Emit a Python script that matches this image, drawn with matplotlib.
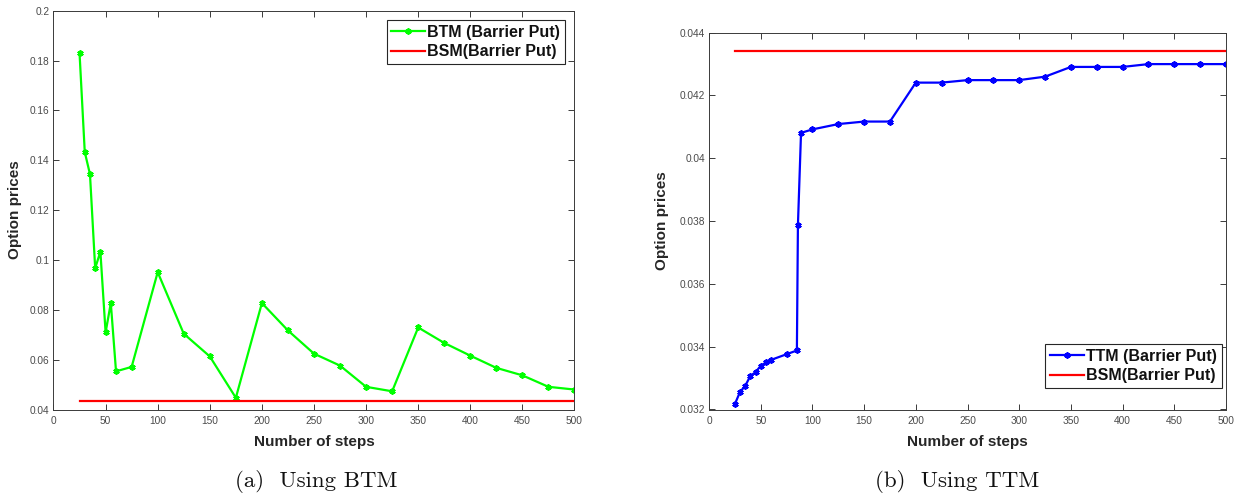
import matplotlib
matplotlib.use("Agg")
import matplotlib.pyplot as plt
from matplotlib.ticker import FormatStrFormatter, MultipleLocator

# Binomial tree model (BTM) prices for the barrier put
btm_steps = [25, 30, 35, 40, 45, 50, 55, 60, 75, 100, 125, 150, 175, 200, 225,
             250, 275, 300, 325, 350, 375, 400, 425, 450, 475, 500]
btm_prices = [0.1829, 0.1433, 0.1344, 0.0967, 0.1033, 0.0709, 0.0827, 0.0553,
              0.0571, 0.0951, 0.0704, 0.0613, 0.0447, 0.0827, 0.0717, 0.0624,
              0.0576, 0.0491, 0.0473, 0.0729, 0.0667, 0.0616, 0.0567, 0.0537,
              0.0491, 0.0480]

# Trinomial tree model (TTM) prices for the barrier put
ttm_steps = [25, 30, 35, 40, 45, 50, 55, 60, 75, 85, 86, 89, 100, 125, 150, 175,
             200, 225, 250, 275, 300, 325, 350, 375, 400, 425, 450, 475, 500]
ttm_prices = [0.03217, 0.03256, 0.03275, 0.03307, 0.03319, 0.03339, 0.03350,
              0.03358, 0.03376, 0.03388, 0.03787, 0.04081, 0.04092, 0.04109,
              0.04117, 0.04117, 0.04241, 0.04241, 0.04249, 0.04249, 0.04249,
              0.04260, 0.04291, 0.04291, 0.04291, 0.04300, 0.04300, 0.04300,
              0.04300]

# Black-Scholes-Merton closed-form barrier put price (reference level)
bsm_steps = [25, 500]
bsm_price = 0.04342

x_ticks = list(range(0, 501, 50))

W, H = 1242, 497
fig = plt.figure(figsize=(W / 100, H / 100), dpi=100)
fig.patch.set_facecolor("white")

SANS = ["Liberation Sans", "DejaVu Sans"]
SPINE = "#3a3a3a"
TICKC = "#4a4a4a"


def px_box(x0, y0, x1, y1):
    return [x0 / W, 1 - y1 / H, (x1 - x0) / W, (y1 - y0) / H]


def style_axes(ax, ylim, ystep):
    ax.set_xlim(0, 500)
    ax.set_ylim(*ylim)
    ax.set_xticks(x_ticks)
    ax.yaxis.set_major_locator(MultipleLocator(ystep))
    ax.yaxis.set_major_formatter(FormatStrFormatter("%g"))
    ax.xaxis.set_major_formatter(FormatStrFormatter("%g"))
    ax.tick_params(direction="in", top=True, right=True, length=4.5,
                   width=0.7, color=SPINE, labelcolor=TICKC, labelsize=7.3)
    ax.tick_params(axis="x", pad=5)
    ax.tick_params(axis="y", pad=3)
    for lab in ax.get_xticklabels() + ax.get_yticklabels():
        lab.set_family(SANS)
    for s in ax.spines.values():
        s.set_color(SPINE)
        s.set_linewidth(0.7)


def add_labels(ax, box):
    x0, y0, x1, y1 = box
    ax.set_xlabel("Number of steps", fontsize=11, fontweight="bold",
                  family=SANS, color="#262626", va="center")
    ax.xaxis.set_label_coords(0.5, -(441.7 - y1) / (y1 - y0))
    ax.set_ylabel("Option prices", fontsize=11, fontweight="bold",
                  family=SANS, color="#262626", va="center")


def add_legend(ax, right_px, top_px):
    leg = ax.legend(loc="upper right",
                    bbox_to_anchor=(right_px / W, 1 - top_px / H),
                    bbox_transform=fig.transFigure,
                    prop={"family": SANS, "weight": "bold", "size": 11.5},
                    fancybox=False, framealpha=1, edgecolor="#262626",
                    borderpad=0.3, handlelength=2.1, handletextpad=0.15,
                    labelspacing=0.28, borderaxespad=0)
    leg.get_frame().set_linewidth(0.8)
    for t in leg.get_texts():
        t.set_color("#111111")
    return leg


marker_kw = dict(marker=(6, 2, 0), markersize=4.5, markeredgewidth=1.3)

# (a) Binomial tree model
box_a = (53.5, 10.7, 574.5, 409.5)
ax1 = fig.add_axes(px_box(*box_a))
ax1.plot(btm_steps, btm_prices, color=(0, 1, 0), lw=1.6,
         label="BTM (Barrier Put)", **marker_kw)
ax1.plot(bsm_steps, [bsm_price, bsm_price], color=(1, 0, 0), lw=1.6,
         label="BSM(Barrier Put)")
style_axes(ax1, (0.04, 0.2), 0.02)
add_labels(ax1, box_a)
ax1.yaxis.set_label_coords((15 - box_a[0]) / (box_a[2] - box_a[0]), 0.5)
add_legend(ax1, 565, 20)

# (b) Trinomial tree model
box_b = (709, 32.7, 1226, 409.5)
ax2 = fig.add_axes(px_box(*box_b))
ax2.plot(ttm_steps, ttm_prices, color=(0, 0, 1), lw=1.6,
         label="TTM (Barrier Put)", **marker_kw)
ax2.plot(bsm_steps, [bsm_price, bsm_price], color=(1, 0, 0), lw=1.6,
         label="BSM(Barrier Put)")
style_axes(ax2, (0.032, 0.044), 0.002)
add_labels(ax2, box_b)
ax2.yaxis.set_label_coords((661.7 - box_b[0]) / (box_b[2] - box_b[0]), 0.5)
add_legend(ax2, 1221.7, 344)

# Sub-figure captions
fig.text(316 / W, 1 - 481.7 / H, "(a)  Using BTM", family="cmr10",
         fontsize=16.5, ha="center", va="center", color="#111111")
fig.text(957 / W, 1 - 481.7 / H, "(b)  Using TTM", family="cmr10",
         fontsize=16.5, ha="center", va="center", color="#111111")

fig.savefig("out.png", dpi=100, facecolor="white")
